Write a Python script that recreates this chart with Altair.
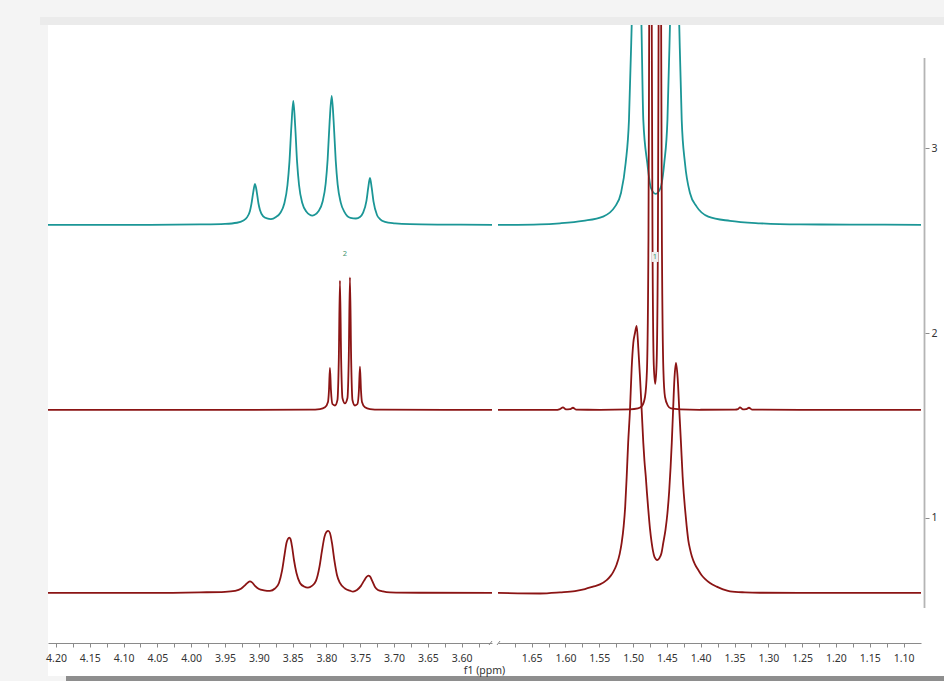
import altair as alt
import pandas as pd

# ---------------- data ----------------
# top (teal) trace, left window 4.21-3.56 ppm
TOP_L_PPM = [4.2118, 4.0610, 3.9870, 3.9500, 3.9323, 3.9234, 3.9175, 3.9131, 3.9109, 3.9082,
             3.9057, 3.9030, 3.9005, 3.8983, 3.8938, 3.8879, 3.8820, 3.8746, 3.8683, 3.8623,
             3.8576, 3.8547, 3.8518, 3.8490, 3.8462, 3.8434, 3.8405, 3.8357, 3.8298, 3.8206,
             3.8115, 3.8056, 3.8011, 3.7982, 3.7952, 3.7922, 3.7893, 3.7863, 3.7834, 3.7789,
             3.7730, 3.7644, 3.7563, 3.7504, 3.7459, 3.7408, 3.7382, 3.7356, 3.7330, 3.7304,
             3.7252, 3.7208, 3.7134, 3.6986, 3.6764, 3.6321, 3.5551]
TOP_L_INT = [2.584, 2.585, 2.587, 2.590, 2.596, 2.607, 2.625, 2.660, 2.698, 2.762,
             2.806, 2.762, 2.700, 2.665, 2.632, 2.619, 2.616, 2.627, 2.649, 2.700,
             2.800, 2.925, 3.119, 3.254, 3.119, 2.925, 2.800, 2.703, 2.657, 2.635,
             2.659, 2.711, 2.808, 2.938, 3.146, 3.281, 3.143, 2.935, 2.803, 2.706,
             2.652, 2.622, 2.619, 2.627, 2.649, 2.714, 2.784, 2.838, 2.784, 2.711,
             2.638, 2.616, 2.601, 2.593, 2.588, 2.586, 2.585]
# top (teal) trace, right window 1.70-1.07 ppm
TOP_R_PPM = [1.6998, 1.6377, 1.6081, 1.5741, 1.5445, 1.5268, 1.5179, 1.5110, 1.5061, 1.5021,
             1.4947, 1.4876, 1.4849, 1.4790, 1.4736, 1.4666, 1.4595, 1.4539, 1.4492, 1.4455,
             1.4385, 1.4317, 1.4281, 1.4233, 1.4159, 1.4060, 1.3888, 1.3567, 1.3123, 1.2532,
             1.1792, 1.0742]
TOP_R_INT = [2.584, 2.587, 2.593, 2.606, 2.629, 2.683, 2.757, 2.919, 3.152, 3.660,
             4.854, 3.660, 3.152, 2.919, 2.784, 2.752, 2.784, 2.919, 3.152, 3.660,
             4.854, 3.660, 3.152, 2.919, 2.757, 2.683, 2.629, 2.606, 2.593, 2.587,
             2.586, 2.585]
# middle (red) trace
MID_L_PPM = [4.2118, 3.9870, 3.8243, 3.8095, 3.8021, 3.7977, 3.7962, 3.7948, 3.7933, 3.7911,
             3.7874, 3.7837, 3.7817, 3.7800, 3.7782, 3.7763, 3.7726, 3.7689, 3.7670, 3.7652,
             3.7634, 3.7615, 3.7578, 3.7541, 3.7519, 3.7504, 3.7489, 3.7474, 3.7430, 3.7356,
             3.7208, 3.5551]
MID_L_INT = [1.584, 1.584, 1.586, 1.589, 1.598, 1.627, 1.692, 1.811, 1.692, 1.616,
             1.608, 1.638, 1.854, 2.283, 1.854, 1.649, 1.620, 1.649, 1.854, 2.301,
             1.854, 1.638, 1.608, 1.616, 1.692, 1.818, 1.692, 1.627, 1.598, 1.589,
             1.586, 1.584]
MID_R_PPM = [1.6998, 1.6155, 1.6081, 1.6037, 1.5993, 1.5934, 1.5889, 1.5845, 1.5490, 1.5046,
             1.4928, 1.4868, 1.4824, 1.4795, 1.4773, 1.4762, 1.4743, 1.4724, 1.4713, 1.4694,
             1.4673, 1.4653, 1.4633, 1.4623, 1.4604, 1.4585, 1.4574, 1.4552, 1.4528, 1.4484,
             1.4440, 1.4307, 1.4011, 1.3493, 1.3449, 1.3419, 1.3375, 1.3330, 1.3286, 1.3242,
             1.2532, 1.0742]
MID_R_INT = [1.584, 1.584, 1.589, 1.598, 1.587, 1.588, 1.596, 1.586, 1.585, 1.587,
             1.592, 1.606, 1.654, 1.800, 2.503, 3.660, 6.449, 3.660, 2.503, 1.827,
             1.725, 1.827, 2.503, 3.660, 6.449, 3.660, 2.503, 1.800, 1.654, 1.606,
             1.592, 1.587, 1.585, 1.586, 1.589, 1.598, 1.587, 1.588, 1.596, 1.586,
             1.584, 1.584]
# bottom (red) trace
BOT_L_PPM = [4.2118, 4.0610, 3.9870, 3.9500, 3.9353, 3.9264, 3.9205, 3.9160, 3.9131, 3.9101,
             3.9057, 3.8998, 3.8924, 3.8835, 3.8761, 3.8702, 3.8657, 3.8620, 3.8591, 3.8569,
             3.8549, 3.8532, 3.8510, 3.8480, 3.8443, 3.8391, 3.8332, 3.8273, 3.8214, 3.8155,
             3.8103, 3.8066, 3.8029, 3.7999, 3.7973, 3.7948, 3.7918, 3.7881, 3.7844, 3.7800,
             3.7726, 3.7652, 3.7607, 3.7548, 3.7489, 3.7445, 3.7408, 3.7381, 3.7356, 3.7319,
             3.7282, 3.7238, 3.7164, 3.7060, 3.6616, 3.5551]
BOT_L_INT = [0.595, 0.595, 0.598, 0.601, 0.606, 0.617, 0.636, 0.652, 0.657, 0.652,
             0.633, 0.616, 0.609, 0.606, 0.619, 0.649, 0.714, 0.800, 0.865, 0.887,
             0.894, 0.887, 0.849, 0.773, 0.703, 0.649, 0.630, 0.624, 0.633, 0.660,
             0.736, 0.822, 0.898, 0.925, 0.930, 0.919, 0.865, 0.768, 0.692, 0.649,
             0.619, 0.607, 0.602, 0.611, 0.633, 0.660, 0.681, 0.689, 0.684, 0.657,
             0.627, 0.611, 0.603, 0.598, 0.596, 0.595]
BOT_R_PPM = [1.6998, 1.6377, 1.6081, 1.5860, 1.5712, 1.5593, 1.5490, 1.5391, 1.5332, 1.5293,
             1.5243, 1.5198, 1.5169, 1.5139, 1.5117, 1.5095, 1.5073, 1.5046, 1.5021, 1.4997,
             1.4972, 1.4947, 1.4923, 1.4898, 1.4873, 1.4849, 1.4832, 1.4812, 1.4795, 1.4775,
             1.4750, 1.4725, 1.4706, 1.4684, 1.4642, 1.4610, 1.4580, 1.4554, 1.4521, 1.4492,
             1.4466, 1.4446, 1.4428, 1.4410, 1.4388, 1.4366, 1.4341, 1.4317, 1.4292, 1.4267,
             1.4250, 1.4233, 1.4208, 1.4184, 1.4159, 1.4129, 1.4085, 1.4036, 1.3989, 1.3937,
             1.3863, 1.3764, 1.3671, 1.3567, 1.3345, 1.3123, 1.2532, 1.0742]
BOT_R_INT = [0.595, 0.592, 0.598, 0.605, 0.616, 0.629, 0.641, 0.664, 0.687, 0.709,
             0.749, 0.806, 0.865, 0.957, 1.060, 1.222, 1.406, 1.584, 1.811, 1.946,
             2.000, 2.038, 1.919, 1.762, 1.584, 1.406, 1.308, 1.222, 1.136, 1.044,
             0.941, 0.865, 0.822, 0.790, 0.773, 0.784, 0.811, 0.865, 0.936, 1.027,
             1.146, 1.271, 1.406, 1.568, 1.757, 1.838, 1.757, 1.584, 1.406, 1.222,
             1.130, 1.054, 0.957, 0.881, 0.833, 0.790, 0.749, 0.719, 0.692, 0.671,
             0.649, 0.629, 0.614, 0.603, 0.598, 0.596, 0.595, 0.595]

TRACES = ["top", "middle", "bottom"]
LEFT_TICKS = [3.575, 3.600, 3.625, 3.650, 3.675, 3.700, 3.725, 3.750, 3.775, 3.800,
              3.825, 3.850, 3.875, 3.900, 3.925, 3.950, 3.975, 4.000, 4.025, 4.050,
              4.075, 4.100, 4.125, 4.150, 4.175, 4.200]
RIGHT_TICKS = [1.100, 1.125, 1.150, 1.175, 1.200, 1.225, 1.250, 1.275, 1.300, 1.325,
               1.350, 1.375, 1.400, 1.425, 1.450, 1.475, 1.500, 1.525, 1.550, 1.575,
               1.600, 1.625, 1.650, 1.675]
Y_TICKS = [1, 2, 3]
LEFT_DOMAIN = [3.5551, 4.2118]
RIGHT_DOMAIN = [1.0742, 1.6998]
Y_DOMAIN = [0.3243, 3.6649]
PEAK_LABELS = ["2", "1"]
PEAK_LABEL_PPM = [3.7726, 1.4676]
PEAK_LABEL_INT = [2.427, 2.411]

# ---------------- styling ----------------
TEAL = "#1b9696"
RED = "#8b1414"
AXIS_GRAY = "#8a8a8a"
FONT = "Noto Sans"
W_L, W_R, H = 444, 423, 618
FULL_W = W_L + 6 + W_R + 23


def frame(ppm, inten, name):
    return pd.DataFrame({"ppm": ppm, "intensity": inten, "trace": name})


left_df = pd.concat([frame(TOP_L_PPM, TOP_L_INT, "top"),
                     frame(MID_L_PPM, MID_L_INT, "middle"),
                     frame(BOT_L_PPM, BOT_L_INT, "bottom")])
right_df = pd.concat([frame(TOP_R_PPM, TOP_R_INT, "top"),
                      frame(MID_R_PPM, MID_R_INT, "middle"),
                      frame(BOT_R_PPM, BOT_R_INT, "bottom")])
labels_df = pd.DataFrame({"ppm": PEAK_LABEL_PPM, "intensity": PEAK_LABEL_INT, "txt": PEAK_LABELS})
deco = pd.DataFrame({"k": [0]})

LABEL_EXPR = "round(datum.value * 40) % 2 == 0 ? format(datum.value, '.2f') : ''"


def x_enc(domain, ticks):
    return alt.X("ppm:Q",
                 scale=alt.Scale(domain=domain, reverse=True, nice=False, zero=False),
                 axis=alt.Axis(values=ticks, labelExpr=LABEL_EXPR, title=None, grid=False,
                               tickSize=4, labelPadding=6, labelFlush=False, labelOverlap=False,
                               domainColor=AXIS_GRAY, tickColor=AXIS_GRAY, zindex=1))


def y_enc(show):
    if show:
        axis = alt.Axis(orient="right", values=Y_TICKS, domain=False, tickSize=4, offset=4,
                        labelPadding=2, title=None, grid=False, tickColor=AXIS_GRAY, zindex=1,
                        format="d")
    else:
        axis = None
    return alt.Y("intensity:Q", scale=alt.Scale(domain=Y_DOMAIN, nice=False, zero=False), axis=axis)


def lines(df, domain, ticks, show_y):
    return alt.Chart(df).mark_line(clip=True, strokeWidth=1.8, interpolate="monotone").encode(
        x=x_enc(domain, ticks),
        y=y_enc(show_y),
        color=alt.Color("trace:N", scale=alt.Scale(domain=TRACES, range=[TEAL, RED, RED]), legend=None),
        order=alt.Order("ppm:Q", sort="descending"),
    )


def peak_label(txt, domain, ticks, show_y):
    base = alt.Chart(labels_df).transform_filter(alt.datum.txt == txt)
    enc = dict(x=x_enc(domain, ticks), y=y_enc(show_y))
    text = base.mark_text(fontSize=7.5, color="#3f9673", font=FONT).encode(text="txt:N", **enc)
    return base, enc, text


# --- left panel ---
outer = alt.Chart(deco).mark_rect(color="#f4f4f4").encode(
    x=alt.value(-48), x2=alt.value(FULL_W), y=alt.value(-25), y2=alt.value(H + 38))
topband = alt.Chart(deco).mark_rect(color="#ebebeb").encode(
    x=alt.value(-8), x2=alt.value(FULL_W), y=alt.value(-8), y2=alt.value(0))
white = alt.Chart(deco).mark_rect(color="#ffffff").encode(
    x=alt.value(0), x2=alt.value(FULL_W), y=alt.value(0), y2=alt.value(H + 33))
bottombar = alt.Chart(deco).mark_rect(color="#8e8e8e").encode(
    x=alt.value(18), x2=alt.value(FULL_W), y=alt.value(H + 33), y2=alt.value(H + 38))

left_lines = lines(left_df, LEFT_DOMAIN, LEFT_TICKS, False)
_, _, label2 = peak_label("2", LEFT_DOMAIN, LEFT_TICKS, False)
break_l = alt.Chart(deco).mark_rule(color=AXIS_GRAY, strokeWidth=1).encode(
    x=alt.value(W_L - 3), x2=alt.value(W_L), y=alt.value(H + 2), y2=alt.value(H - 2))
xtitle = alt.Chart(deco).mark_text(text="f1 (ppm)", font=FONT, fontSize=10.5, color="#333333",
                                   align="center", baseline="middle").encode(
    x=alt.value(436.5), y=alt.value(646))

left = alt.layer(outer, topband, white, bottombar, left_lines, label2, break_l, xtitle).properties(
    width=W_L, height=H)

# --- right panel ---
right_lines = lines(right_df, RIGHT_DOMAIN, RIGHT_TICKS, True)
base1, enc1, label1 = peak_label("1", RIGHT_DOMAIN, RIGHT_TICKS, True)
box1 = base1.mark_point(shape="M-0.7,-1L0.7,-1L0.7,1L-0.7,1Z", filled=True, size=100,
                        color="#eeeeee", opacity=1).encode(**enc1)
ydomain = alt.Chart(deco).mark_rule(color="#b4b4b4", strokeWidth=1.8).encode(
    x=alt.value(W_R + 3.5), y=alt.value(33), y2=alt.value(583))
break_r = alt.Chart(deco).mark_rule(color=AXIS_GRAY, strokeWidth=1).encode(
    x=alt.value(-1), x2=alt.value(2), y=alt.value(H + 2), y2=alt.value(H - 2))

right = alt.layer(right_lines, box1, label1, ydomain, break_r).properties(width=W_R, height=H)

chart = alt.hconcat(left, right, spacing=6, bounds="flush", padding=0).configure(
    background="#f4f4f4"
).configure_view(strokeWidth=0).configure_axis(
    labelFont=FONT, labelFontSize=10.5, labelColor="#333333"
)

chart.save("out.html", embed_options={"renderer": "svg", "actions": False})
